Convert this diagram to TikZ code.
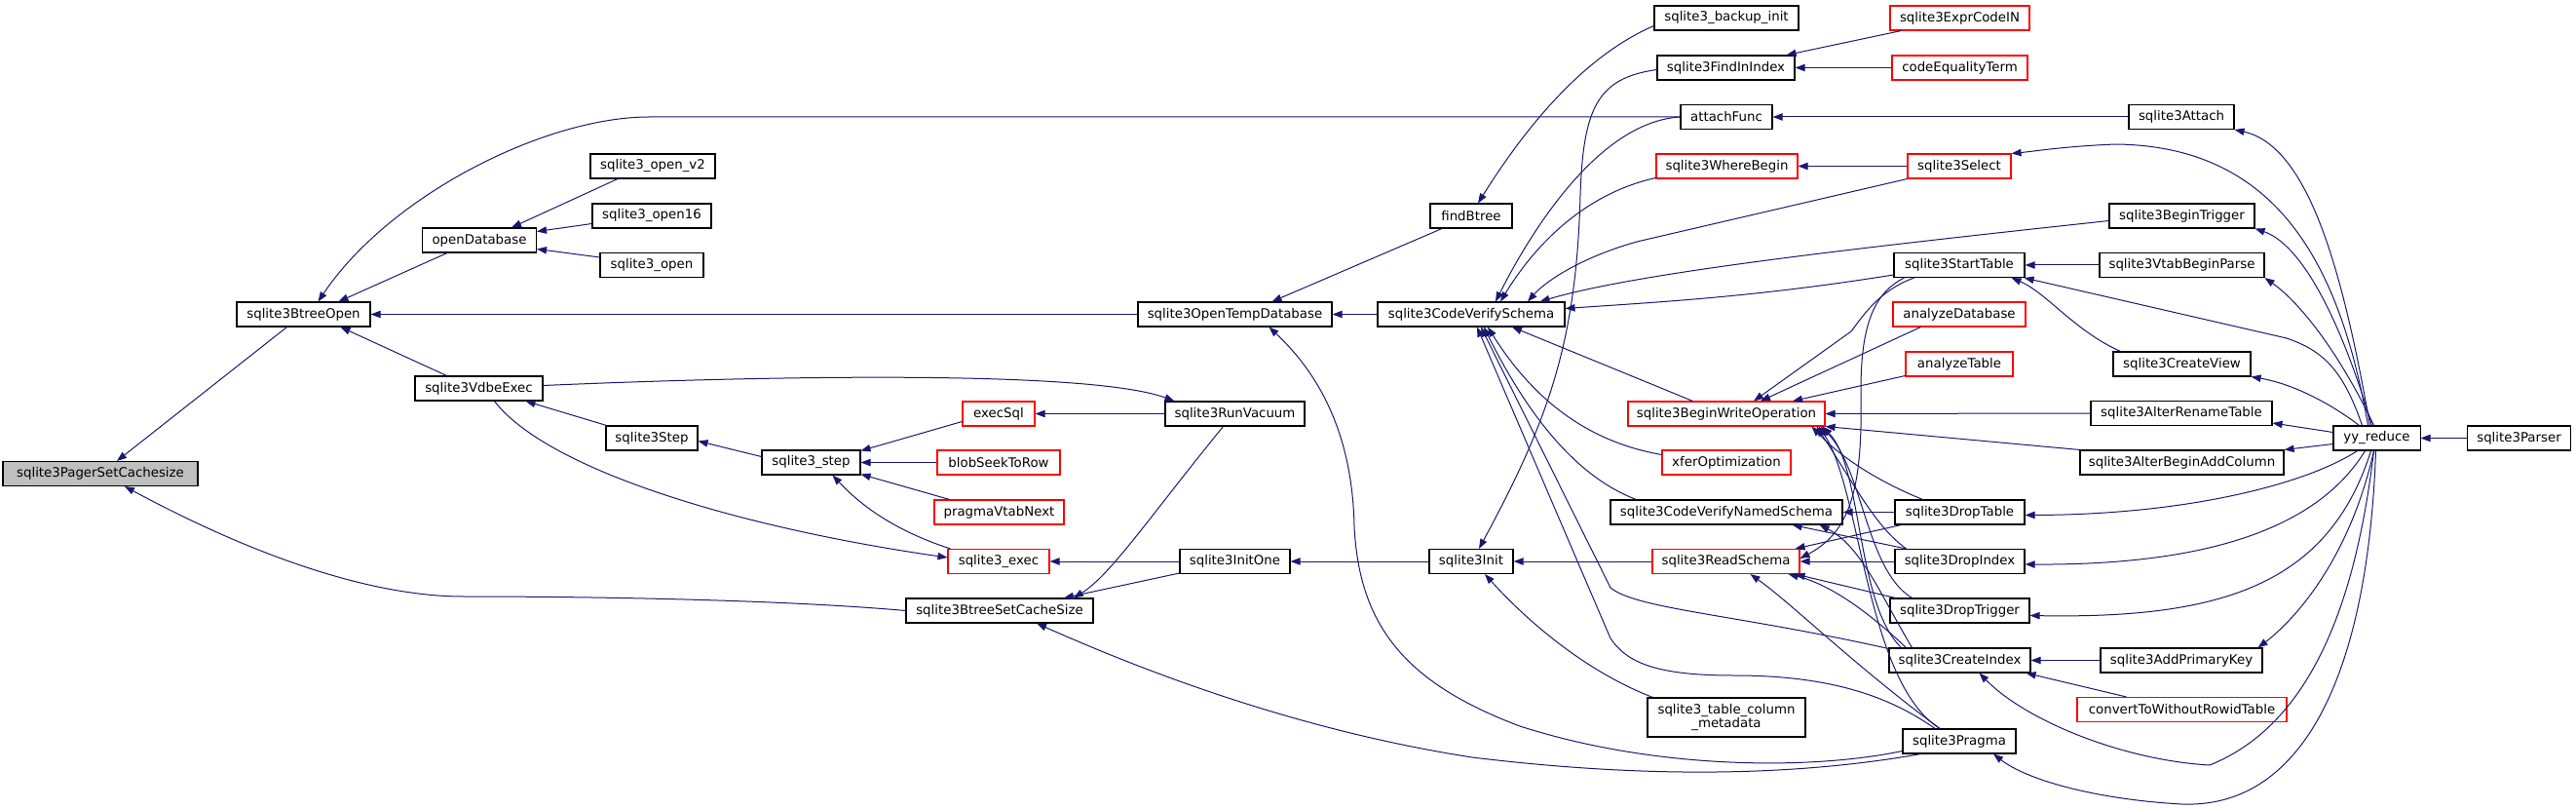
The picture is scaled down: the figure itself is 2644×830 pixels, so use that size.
\documentclass[tikz,border=0pt]{standalone}
\usepackage{fontspec}
\setmainfont{DejaVu Sans}
\usetikzlibrary{arrows.meta,calc}
\definecolor{mblue}{RGB}{25,25,112}
\definecolor{rootgray}{RGB}{191,191,191}
\definecolor{nred}{RGB}{255,0,0}
\begin{document}
\begin{tikzpicture}[x=0.75pt,y=-0.75pt,
 nd/.style={draw=black,line width=0.8pt,fill=white,inner sep=0pt,minimum height=18.75pt,font=\fontsize{10}{11}\selectfont,align=center},
 redbox/.style={draw=nred},
 bw/.style={minimum width=#1*0.75pt},
 e/.style={draw=mblue,line width=0.75pt,-{Triangle[length=7.5pt,width=5.5pt]}}]
\useasboundingbox (0,0) rectangle (2644,830);
% nodes
\node[nd,bw=200,fill=rootgray] (root) at (103,486) {sqlite3PagerSetCachesize};
\node[nd,bw=137] (btopen) at (311.5,322.5) {sqlite3BtreeOpen};
\node[nd,bw=117] (opendb) at (492,246.5) {openDatabase};
\node[nd,bw=128] (openv2) at (670,170.5) {sqlite3\_open\_v2};
\node[nd,bw=122] (open16) at (669,221.5) {sqlite3\_open16};
\node[nd,bw=106] (open) at (669,272) {sqlite3\_open};
\node[nd,bw=131] (vdbe) at (491.5,398.5) {sqlite3VdbeExec};
\node[nd,bw=94] (step3) at (669,449.5) {sqlite3Step};
\node[nd,bw=101] (stepl) at (832.5,474.5) {sqlite3\_step};
\node[nd,redbox,bw=74] (execsql) at (1025,424.5) {execSql};
\node[nd,redbox,bw=126] (blob) at (1025,474.5) {blobSeekToRow};
\node[nd,redbox,bw=133] (pvnext) at (1025.5,525.5) {pragmaVtabNext};
\node[nd,redbox,bw=104] (exec) at (1025,576) {sqlite3\_exec};
\node[nd,bw=192] (bscs) at (1026,626.5) {sqlite3BtreeSetCacheSize};
\node[nd,bw=199] (otd) at (1267.5,322.5) {sqlite3OpenTempDatabase};
\node[nd,bw=143] (vacuum) at (1267.5,424.5) {sqlite3RunVacuum};
\node[nd,bw=113] (initone) at (1267.5,576) {sqlite3InitOne};
\node[nd,bw=84] (findbtree) at (1510,221.5) {findBtree};
\node[nd,bw=192] (cvs) at (1510,322.5) {sqlite3CodeVerifySchema};
\node[nd,bw=86] (init) at (1510,576) {sqlite3Init};
\node[nd,bw=148] (backup) at (1772,18.5) {sqlite3\_backup\_init};
\node[nd,bw=141] (findin) at (1771.5,69.5) {sqlite3FindInIndex};
\node[nd,bw=94] (attach) at (1772,120) {attachFunc};
\node[nd,redbox,bw=145] (where) at (1772.5,170.5) {sqlite3WhereBegin};
\node[nd,redbox,bw=202] (bwo) at (1772,424.5) {sqlite3BeginWriteOperation};
\node[nd,redbox,bw=132] (xfer) at (1772,474.5) {xferOptimization};
\node[nd,bw=238] (cvns) at (1772,525.5) {sqlite3CodeVerifyNamedSchema};
\node[nd,redbox,bw=151] (readschema) at (1771.5,576) {sqlite3ReadSchema};
\node[nd,bw=162,minimum height=30pt] (tcm) at (1772,736) {sqlite3\_table\_column\\\_metadata};
\node[nd,redbox,bw=143] (exprin) at (2011.5,18.5) {sqlite3ExprCodeIN};
\node[nd,redbox,bw=139] (codeeq) at (2011.5,69.5) {codeEqualityTerm};
\node[nd,redbox,bw=106] (select) at (2011,170.5) {sqlite3Select};
\node[nd,bw=134] (starttable) at (2011,272) {sqlite3StartTable};
\node[nd,redbox,bw=136] (anadb) at (2011,322.5) {analyzeDatabase};
\node[nd,redbox,bw=110] (anatab) at (2011,373.5) {analyzeTable};
\node[nd,bw=133] (droptable) at (2011.5,525.5) {sqlite3DropTable};
\node[nd,bw=133] (dropindex) at (2011.5,576) {sqlite3DropIndex};
\node[nd,bw=143] (droptrigger) at (2011.5,626.5) {sqlite3DropTrigger};
\node[nd,bw=145] (createindex) at (2011.5,677.5) {sqlite3CreateIndex};
\node[nd,bw=116] (pragma) at (2011,760.5) {sqlite3Pragma};
\node[nd,bw=108] (sattach) at (2239,120) {sqlite3Attach};
\node[nd,bw=149] (begintrig) at (2239.5,221.5) {sqlite3BeginTrigger};
\node[nd,bw=169] (vtab) at (2239.5,272) {sqlite3VtabBeginParse};
\node[nd,bw=141] (createview) at (2239.5,373.5) {sqlite3CreateView};
\node[nd,bw=186] (altren) at (2239,424) {sqlite3AlterRenameTable};
\node[nd,bw=209] (altadd) at (2239.5,474.5) {sqlite3AlterBeginAddColumn};
\node[nd,bw=166] (addpk) at (2239,677.5) {sqlite3AddPrimaryKey};
\node[nd,redbox,bw=215] (convert) at (2239.5,728) {convertToWithoutRowidTable};
\node[nd,bw=89] (yy) at (2439.5,449.5) {yy\_reduce};
\node[nd,bw=106] (parser) at (2585.5,449.5) {sqlite3Parser};
% edges
\draw[e] ($(btopen.south)+(-17,0)$) -- ($(root.north)+(17,0)$);
\draw[e] (bscs.west) .. controls (800,615) and (600,612) .. (476,612) .. controls (380,612) and (260,570) .. ($(root.south)+(25,0)$);
\draw[e] (attach.west) -- (666,120) .. controls (560,120) and (400,200) .. ($(btopen.north)+(15,0)$);
\draw[e] ($(opendb.south)+(-33,0)$) -- ($(btopen.north)+(36,0)$);
\draw[e] (otd.west) -- (btopen.east);
\draw[e] ($(vdbe.north)+(-33,0)$) -- ($(btopen.south)+(38,0)$);
\draw[e] ($(openv2.south)+(-36,0)$) -- ($(opendb.north)+(33,0)$);
\draw[e] ($(open16.west)+(0,8)$) -- ($(opendb.east)+(0,-9)$);
\draw[e] ($(open.west)+(0,-8)$) -- ($(opendb.east)+(0,9)$);
\draw[e] ($(step3.north west)+(1,0)$) -- ($(vdbe.south)+(48,0)$);
\draw[e] ($(vdbe.east)+(0,-3)$) .. controls (800,385) and (1120,380) .. ($(vacuum.north west)+(10,0)$);
\draw[e] ($(stepl.west)+(0,-6)$) -- ($(step3.east)+(0,3)$);
\draw[e] ($(execsql.west)+(0,8)$) -- ($(stepl.east)+(0,-12)$);
\draw[e] (blob.west) -- (stepl.east);
\draw[e] ($(pvnext.north west)+(16,0)$) -- ($(stepl.east)+(0,12)$);
\draw[e] ($(exec.north west)+(3,0)$) .. controls (920,545) and (885,520) .. ($(stepl.south)+(22,0)$);
\draw[e] ($(vdbe.south)+(16,0)$) .. controls (560,480) and (750,540) .. ($(exec.west)+(0,-4)$);
\draw[e] (vacuum.west) -- (execsql.east);
\draw[e] ($(vacuum.south)+(-12,0)$) .. controls (1180,530) and (1140,590) .. ($(bscs.north)+(76,0)$);
\draw[e] (initone.west) -- (exec.east);
\draw[e] ($(initone.south west)+(0,-1)$) -- ($(bscs.north)+(66,0)$);
\draw[e] (init.west) -- (initone.east);
\draw[e] ($(pragma.south west)+(19,0)$) .. controls (1850,795) and (1700,800) .. (1511,777) .. controls (1350,752) and (1200,700) .. ($(bscs.south)+(38,0)$);
\draw[e] (cvs.west) -- (otd.east);
\draw[e] ($(pragma.west)+(0,10)$) .. controls (1860,790) and (1700,790) .. (1560,745) .. controls (1440,700) and (1395,640) .. (1390,540) .. controls (1388,440) and (1350,380) .. ($(otd.south)+(35,0)$);
\draw[e] ($(backup.west)+(0,8)$) .. controls (1620,60) and (1560,140) .. ($(findbtree.north)+(7,0)$);
\draw[e] ($(findbtree.south)+(-30,0)$) -- ($(otd.north)+(38,0)$);
\draw[e] ($(findin.west)+(0,2)$) .. controls (1640,80) and (1625,110) .. (1622,200) .. controls (1618,350) and (1590,430) .. ($(init.north)+(8,0)$);
\draw[e] (attach.west) .. controls (1640,125) and (1570,240) .. ($(cvs.north)+(25,0)$);
\draw[e] ($(where.west)+(0,12)$) .. controls (1620,200) and (1570,260) .. ($(cvs.north)+(30,0)$);
\draw[e] (select.south west) -- (1680,248) .. controls (1620,265) and (1585,290) .. ($(cvs.north)+(58,0)$);
\draw[e] ($(begintrig.west)+(0,5)$) .. controls (1900,255) and (1680,280) .. ($(cvs.north east)+(-26,0)$);
\draw[e] ($(starttable.west)+(0,10)$) .. controls (1800,305) and (1700,310) .. ($(cvs.east)+(0,-6)$);
\draw[e] ($(bwo.north west)+(67,0)$) -- ($(cvs.south)+(42,0)$);
\draw[e] ($(xfer.west)+(0,-8)$) .. controls (1640,455) and (1580,420) .. ($(cvs.south)+(17,0)$);
\draw[e] ($(cvns.north west)+(27,0)$) .. controls (1620,490) and (1570,430) .. ($(cvs.south)+(13,0)$);
\draw[e] ($(createindex.west)+(0,-12)$) .. controls (1780,630) and (1680,625) .. (1653,603) -- ($(cvs.south)+(10,0)$);
\draw[e] ($(pragma.north)+(-25,0)$) .. controls (1940,715) and (1880,693) .. (1780,693) .. controls (1700,693) and (1670,680) .. (1653,655) -- ($(cvs.south)+(6,0)$);
\draw[e] ($(exprin.south west)+(12,0)$) -- ($(findin.north east)+(-9,0)$);
\draw[e] (codeeq.west) -- (findin.east);
\draw[e] (sattach.west) -- (attach.east);
\draw[e] (select.west) -- (where.east);
\draw[e] (vtab.west) -- (starttable.east);
\draw[e] ($(createview.north west)+(8,0)$) .. controls (2130,340) and (2100,300) .. ($(starttable.south east)+(-14,0)$);
\draw[e] ($(yy.north)+(-15,0)$) .. controls (2405,380) and (2385,360) .. (2347,347) -- ($(starttable.south east)+(-1,0)$);
\draw[e] ($(anadb.south west)+(29,0)$) -- ($(bwo.north)+(35,0)$);
\draw[e] ($(anatab.west)+(0,12)$) -- ($(bwo.north)+(68,0)$);
\draw[e] ($(starttable.south west)+(21,0)$) .. controls (1930,298) and (1915,320) .. (1900,340) -- ($(bwo.north)+(28,0)$);
\draw[e] ($(starttable.south west)+(11,0)$) .. controls (1925,300) and (1910,330) .. (1910,400) .. controls (1912,500) and (1900,545) .. ($(readschema.east)+(0,-3)$);
\draw[e] (altren.west) -- (bwo.east);
\draw[e] (altadd.north west) -- (bwo.south east);
\draw[e] ($(droptable.north west)+(29,0)$) .. controls (1930,495) and (1890,470) .. ($(bwo.south east)+(-14,0)$);
\draw[e] ($(dropindex.north west)+(12,0)$) .. controls (1925,540) and (1905,500) .. ($(bwo.south east)+(-9,0)$);
\draw[e] ($(droptrigger.north west)+(23,0)$) .. controls (1915,585) and (1912,480) .. ($(bwo.south east)+(-5,0)$);
\draw[e] ($(createindex.north west)+(13,0)$) .. controls (1905,620) and (1912,480) .. ($(bwo.south east)+(-3,0)$);
\draw[e] ($(pragma.north)+(-20,0)$) .. controls (1915,700) and (1910,500) .. ($(bwo.south east)+(-7,0)$);
\draw[e] (droptable.west) -- (cvns.east);
\draw[e] ($(dropindex.north west)+(12,0)$) -- ($(cvns.south east)+(-52,0)$);
\draw[e] ($(createindex.north west)+(24,0)$) .. controls (1930,610) and (1910,560) .. ($(cvns.south east)+(-24,0)$);
\draw[e] ($(droptable.south west)+(7,0)$) -- ($(readschema.north east)+(-5,0)$);
\draw[e] (dropindex.west) -- (readschema.east);
\draw[e] ($(droptrigger.north west)+(6,0)$) -- ($(readschema.south east)+(-5,0)$);
\draw[e] ($(createindex.north west)+(18,0)$) .. controls (1920,630) and (1880,600) .. ($(readschema.south east)+(-12,0)$);
\draw[e] ($(pragma.north)+(-20,0)$) .. controls (1900,680) and (1840,620) .. ($(readschema.south)+(25,0)$);
\draw[e] (readschema.west) -- (init.east);
\draw[e] ($(tcm.north west)+(6,0)$) .. controls (1630,690) and (1570,640) .. ($(init.south)+(14,0)$);
\draw[e] (addpk.west) -- (createindex.east);
\draw[e] ($(convert.north west)+(51,0)$) -- ($(createindex.south east)+(-5,0)$);
\draw[e] ($(yy.south)+(-3,0)$) .. controls (2420,600) and (2380,740) .. (2268,785) .. controls (2180,780) and (2080,740) .. ($(createindex.south)+(20,0)$);
\draw[e] ($(yy.south)+(-1,0)$) .. controls (2430,700) and (2360,830) .. (2239,825) .. controls (2150,820) and (2080,800) .. ($(pragma.south)+(35,0)$);
\draw[e] ($(yy.south)+(-20,0)$) .. controls (2370,495) and (2250,528) .. ($(droptable.east)+(0,3)$);
\draw[e] ($(yy.south)+(-12,0)$) .. controls (2380,540) and (2270,580) .. ($(dropindex.east)+(0,3)$);
\draw[e] ($(yy.south)+(-6,0)$) .. controls (2390,600) and (2280,635) .. ($(droptrigger.east)+(0,5)$);
\draw[e] ($(yy.south)+(-3,0)$) .. controls (2410,580) and (2350,640) .. ($(addpk.north east)+(-5,0)$);
\draw[e] ($(yy.north)+(-7,0)$) .. controls (2405,280) and (2370,150) .. (sattach.south east);
\draw[e] ($(yy.north)+(-9,0)$) .. controls (2400,260) and (2330,150) .. (2172,148) .. controls (2120,150) and (2090,155) .. (select.north east);
\draw[e] ($(yy.north)+(-5,0)$) .. controls (2400,320) and (2360,250) .. (begintrig.south east);
\draw[e] ($(yy.north)+(-3,0)$) .. controls (2400,360) and (2360,310) .. (vtab.south east);
\draw[e] ($(yy.north)+(-18,0)$) .. controls (2400,420) and (2360,395) .. (createview.south east);
\draw[e] ($(yy.west)+(0,-6)$) -- ($(altren.east)+(0,10)$);
\draw[e] ($(yy.west)+(0,6)$) -- (altadd.north east);
\draw[e] (parser.west) -- (yy.east);
\end{tikzpicture}
\end{document}
